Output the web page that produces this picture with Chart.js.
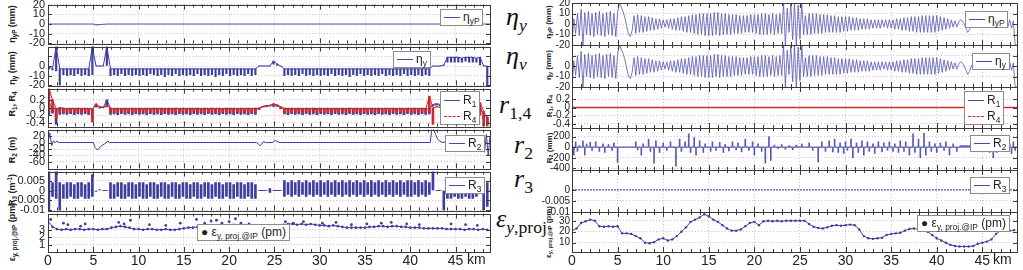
<!DOCTYPE html>
<html lang="en">
<head>
<meta charset="UTF-8">
<title>Dispersion and R-matrix along the ring</title>
<script src="https://cdn.jsdelivr.net/npm/chart.js"></script>
<style>
  body { margin: 0; width: 1023px; height: 270px; position: relative; overflow: hidden; background: #fff;
         font-family: "Liberation Sans", Arial, sans-serif; color: #222; }
  canvas { position: absolute; z-index: 3; }
  sub { font-size: 70%; vertical-align: -0.3em; line-height: 0; }
  sup { font-size: 70%; vertical-align: 0.4em; line-height: 0; }
  .yt { position: absolute; transform: translate(-50%, -50%) rotate(-90deg); white-space: nowrap;
        font-size: 9px; font-weight: bold; color: #222; z-index: 1; }
  .yt.r { font-size: 8px; }
  .m { position: absolute; font-family: "Liberation Serif", "DejaVu Serif", serif; font-size: 26px; line-height: 26px;
       background: #fff; z-index: 2; white-space: nowrap; color: #111; }
  .m i { font-style: italic; }
  .m sub { font-size: 68%; vertical-align: -0.35em; }
  .lg { position: absolute; background: #fff; border: 1px solid #8c8c8c; font-size: 12px; line-height: 15px;
        padding: 0 3px; white-space: nowrap; z-index: 4; color: #222; }
  .lg .s { display: inline-block; width: 16px; border-top: 1px solid #4a4aa8; vertical-align: middle; margin-right: 3px; }
  .lg .s.red { border-top: 1px dashed #d0282c; }
  .km { position: absolute; font-size: 14px; z-index: 4; color: #222; }
</style>
</head>
<body>
<!-- y titles, left column -->
<div class="yt" style="left:12px;top:24px">η<sub>yP</sub> (mm)</div>
<div class="yt" style="left:12px;top:68px">η<sub>y</sub> (mm)</div>
<div class="yt" style="left:12px;top:104px">R<sub>1</sub>, R<sub>4</sub></div>
<div class="yt" style="left:12px;top:150px">R<sub>2</sub> (m)</div>
<div class="yt" style="left:12px;top:190px">R<sub>3</sub> (m<sup>-1</sup>)</div>
<div class="yt" style="left:12px;top:232px">ε<sub>y, proj.@IP</sub> (pm)</div>
<!-- y titles, right column -->
<div class="yt r" style="left:548px;top:22px">η<sub>yP</sub> (mm)</div>
<div class="yt r" style="left:548px;top:65px">η<sub>y</sub> (mm)</div>
<div class="yt r" style="left:549px;top:106px">R<sub>1</sub>, R<sub>4</sub></div>
<div class="yt r" style="left:549px;top:148px">R<sub>2</sub> (mm)</div>
<div class="yt r" style="left:548px;top:232px">ε<sub>y, proj.@IP</sub> (pm)</div>

<!-- symbols between the two columns -->
<div class="m" style="left:506px;top:4px"><i>η</i><sub><i>y</i></sub></div>
<div class="m" style="left:506px;top:43px"><i>η</i><sub><i>v</i></sub></div>
<div class="m" style="left:499px;top:92px"><i>r</i><sub>1,4</sub></div>
<div class="m" style="left:514px;top:132px"><i>r</i><sub>2</sub></div>
<div class="m" style="left:514px;top:166px"><i>r</i><sub>3</sub></div>
<div class="m" style="left:496px;top:206px"><i>ε</i><sub><i>y</i>,proj</sub></div>

<!-- legends -->
<div class="lg" style="left:440px;top:9px"><span class="s"></span>η<sub>yP</sub></div>
<div class="lg" style="left:393px;top:51px"><span class="s"></span>η<sub>y</sub></div>
<div class="lg" style="left:440px;top:91px;line-height:16px"><span class="s"></span>R<sub>1</sub><br><span class="s red"></span>R<sub>4</sub></div>
<div class="lg" style="left:445px;top:135px"><span class="s"></span>R<sub>2</sub></div>
<div class="lg" style="left:445px;top:177px"><span class="s"></span>R<sub>3</sub></div>
<div class="lg" style="left:197px;top:224px">● ε<sub>y, proj.@IP</sub> (pm)</div>

<div class="lg" style="left:965px;top:11px"><span class="s"></span>η<sub>yP</sub></div>
<div class="lg" style="left:972px;top:53px"><span class="s"></span>η<sub>y</sub></div>
<div class="lg" style="left:964px;top:91px;line-height:16px"><span class="s"></span>R<sub>1</sub><br><span class="s red"></span>R<sub>4</sub></div>
<div class="lg" style="left:970px;top:135px"><span class="s"></span>R<sub>2</sub></div>
<div class="lg" style="left:970px;top:177px"><span class="s"></span>R<sub>3</sub></div>
<div class="lg" style="left:917px;top:215px">● ε<sub>y, proj.@IP</sub> (pm)</div>

<div class="km" style="left:467px;top:251px">km</div>
<div class="km" style="left:993px;top:251px">km</div>

<script>
// ---------------- data (km along the ring, sampled every 0.2 km unless given as x/y lists) ----------------
const STEP = 0.2;
const EPS_STEP = 0.5;
const X_TICKS = [0, 5, 10, 15, 20, 25, 30, 35, 40, 45];

// left column: eta_yP is flat
const etaYPLx = [0, 5.0, 5.3, 5.8, 6.6, 48.8];
const etaYPLy = [0, 0, -1, -0.5, 0, 0];

// left column: eta_y (mm)
const etaYL = [
  0,-3,-4,-3,-5, 20,-20,-3,-9,-3, -10,-3,-9,-3,-10, -3,-8,-3,-10,-3, -9,-3,-10,-3,-9,
  20,0,0,0,0, 0,0,0,20,-3, -10,-3,-9,-3,-10, -3,-8,-3,-10,-3, -9,-3,-10,-3,-9,
  -3,-10,-3,-9,-3, -10,-3,-8,-3,-9, -3,-10,-3,-9,-3, -11,-3,-9,-3,-10, -3,-8,-3,-10,-3,
  -9,-3,-10,-3,-9, -3,-10,-3,-8,-3, -10,-3,-9,-3,-10, -3,-9,-3,-11,-3, -9,-3,-10,-3,-8,
  -3,-10,-3,-9,-3, -10,-3,-9,-3,-10, -3,-8,-3,-10,-3, -9,0,0,0,0, 0,0,0,0,2,
  5,2,0,0,0, -3,-10,-3,-9,-3, -10,-3,-9,-3,-10, -3,-8,-3,-10,-3, -9,-3,-10,-3,-9,
  -3,-10,-3,-9,-3, -10,-3,-8,-3,-10, -3,-9,-3,-10,-3, -9,-3,-11,-3,-9, -3,-10,-3,-8,-3,
  -10,-3,-9,-3,-10, -3,-9,-3,-10,-3, -8,-3,-10,-3,-9, -3,-10,-3,-9,-3, -10,-3,-8,-3,-10,
  -3,-9,-3,-10,-3, -9,-3,-10,-3,-9, -3,-10,0,0,0, 0,0,0,0,1, 9,4,9,4,9,
  4,9,4,8,4, 9,5,9,4,9, 4,8,4,9,1, 0,0,0,-20,-20
];

// left column: R1 (blue) and R4 (red)
const r1L = [
  0.1,-0.2,0.0,-0.15,-0.05, -0.45,0.0,-0.18,-0.02,-0.17, -0.03,-0.18,-0.02,-0.16,-0.03, -0.19,-0.02,-0.17,-0.03,-0.18, -0.02,-0.16,-0.03,-0.19,-0.04,
  -0.3,0.05,0.0,-0.02,0.0, -0.01,0.0,0.02,0.2,-0.02, -0.18,-0.03,-0.17,-0.02,-0.19, -0.03,-0.16,-0.02,-0.18,-0.03, -0.17,-0.02,-0.19,-0.03,-0.16,
  -0.02,-0.18,-0.03,-0.17,-0.02, -0.19,-0.03,-0.16,-0.02,-0.18, -0.03,-0.17,-0.02,-0.19,-0.03, -0.16,-0.02,-0.18,-0.03,-0.17, -0.02,-0.19,-0.03,-0.16,-0.02,
  -0.18,-0.03,-0.17,-0.02,-0.19, -0.03,-0.16,-0.02,-0.18,-0.03, -0.17,-0.02,-0.19,-0.03,-0.16, -0.02,-0.18,-0.03,-0.17,-0.02, -0.19,-0.03,-0.16,-0.02,-0.18,
  -0.03,-0.17,-0.02,-0.19,-0.03, -0.16,-0.02,-0.18,-0.03,-0.17, -0.02,-0.19,-0.03,-0.16,-0.02, -0.18,-0.05,-0.02,0.0,0.03, 0.05,0.02,0.04,0.06,0.03,
  0.08,0.05,0.03,0.0,-0.03, -0.17,-0.02,-0.19,-0.03,-0.16, -0.02,-0.18,-0.03,-0.17,-0.02, -0.19,-0.03,-0.16,-0.02,-0.18, -0.03,-0.17,-0.02,-0.19,-0.03,
  -0.16,-0.02,-0.18,-0.03,-0.17, -0.02,-0.19,-0.03,-0.16,-0.02, -0.18,-0.03,-0.17,-0.02,-0.19, -0.03,-0.16,-0.02,-0.18,-0.03, -0.17,-0.02,-0.19,-0.03,-0.16,
  -0.02,-0.18,-0.03,-0.17,-0.02, -0.19,-0.03,-0.16,-0.02,-0.18, -0.03,-0.17,-0.02,-0.19,-0.03, -0.16,-0.02,-0.18,-0.03,-0.17, -0.02,-0.19,-0.03,-0.16,-0.02,
  -0.18,-0.03,-0.17,-0.02,-0.19, -0.03,-0.16,-0.02,-0.18,-0.03, -0.17,-0.05,0.05,0.08,0.1, 0.06,0.08,0.05,0.04,0.1, 0.0,0.1,0.0,0.09,0.01,
  0.1,0.0,0.09,0.01,0.1, 0.0,0.1,0.01,0.09,0.0, 0.1,0.01,0.09,0.0,-0.1, -0.3,-0.2,-0.4,-0.25,-0.45
];
const r4L = [
  0.5,-0.1,0.2,-0.12,-0.03, -0.3,-0.05,-0.14,-0.03,-0.13, -0.04,-0.14,-0.03,-0.12,-0.04, -0.15,-0.03,-0.13,-0.04,-0.14, -0.03,-0.12,-0.04,-0.15,-0.05,
  -0.38,0.1,0.05,0.02,0.0, 0.01,0.0,0.0,0.05,-0.03, -0.14,-0.04,-0.13,-0.03,-0.15, -0.04,-0.12,-0.03,-0.14,-0.04, -0.13,-0.03,-0.15,-0.04,-0.12,
  -0.03,-0.14,-0.04,-0.13,-0.03, -0.15,-0.04,-0.12,-0.03,-0.14, -0.04,-0.13,-0.03,-0.15,-0.04, -0.12,-0.03,-0.14,-0.04,-0.13, -0.03,-0.15,-0.04,-0.12,-0.03,
  -0.14,-0.04,-0.13,-0.03,-0.15, -0.04,-0.12,-0.03,-0.14,-0.04, -0.13,-0.03,-0.15,-0.04,-0.12, -0.03,-0.14,-0.04,-0.13,-0.03, -0.15,-0.04,-0.12,-0.03,-0.14,
  -0.04,-0.13,-0.03,-0.15,-0.04, -0.12,-0.03,-0.14,-0.04,-0.13, -0.03,-0.15,-0.04,-0.12,-0.03, -0.14,-0.06,-0.02,0.0,0.02, 0.04,0.03,0.05,0.04,0.06,
  0.1,0.07,0.04,0.02,-0.04, -0.13,-0.03,-0.15,-0.04,-0.12, -0.03,-0.14,-0.04,-0.13,-0.03, -0.15,-0.04,-0.12,-0.03,-0.14, -0.04,-0.13,-0.03,-0.15,-0.04,
  -0.12,-0.03,-0.14,-0.04,-0.13, -0.03,-0.15,-0.04,-0.12,-0.03, -0.14,-0.04,-0.13,-0.03,-0.15, -0.04,-0.12,-0.03,-0.14,-0.04, -0.13,-0.03,-0.15,-0.04,-0.12,
  -0.03,-0.14,-0.04,-0.13,-0.03, -0.15,-0.04,-0.12,-0.03,-0.14, -0.04,-0.13,-0.03,-0.15,-0.04, -0.12,-0.03,-0.14,-0.04,-0.13, -0.03,-0.15,-0.04,-0.12,-0.03,
  -0.14,-0.04,-0.13,-0.03,-0.15, -0.04,-0.12,-0.03,-0.14,-0.04, -0.13,0.3,-0.45,0.0,0.02, 0.0,0.01,0.0,0.01,0.05, 0.12,0.03,0.13,0.02,0.12,
  0.03,0.13,0.02,0.12,0.03, 0.13,0.02,0.12,0.03,0.13, 0.02,0.12,0.03,0.13,-0.2, -0.5,-0.1,-0.5,-0.3,-0.5
];

// left column: R2 (m)
const r2Lx = [0, 0.2, 0.4, 0.6, 0.8, 1.0, 1.2, 5.0, 5.2, 5.4, 5.6, 5.8, 6.0, 6.2, 6.4, 6.6, 6.8,
  23.0, 23.2, 23.4, 23.6, 23.8, 24.0, 24.8, 25.0, 25.2, 25.4, 25.6,
  42.2, 42.4, 42.6, 42.8, 43.0, 43.2, 43.4, 43.6, 43.8, 44.2, 44.6, 45.0, 45.4, 45.8, 46.2, 46.6, 47.0, 47.4, 47.8,
  48.0, 48.2, 48.4, 48.6, 48.8];
const r2Ly = [0, 30, -10, 5, 0, 5, 0, 0, -15, -22, -20, -12, -8, -5, -2, 5, 0,
  0, -3, -10, -5, 3, 0, 0, 6, 5, 2, 0,
  0, 45, 40, 25, 12, 5, 2, 0, 2, -3, 3, -3, 3, -3, 3, -3, 3, -3, 0,
  10, -30, 25, -40, 20];

// left column: R3 (1/m)
const r3L = [
  -0.01,0.01,-0.003,0.004,-0.004, 0.01,-0.01,0.004,-0.004,0.003, -0.004,0.004,-0.003,0.004,-0.004, 0.003,-0.004,0.004,-0.003,0.004, -0.004,0.003,-0.004,0.004,-0.003,
  0.008,0.0,-0.0005,0.0,0.0005, 0.0,0.0,0.0,0.0,0.004, -0.004,0.003,-0.004,0.004,-0.003, 0.004,-0.004,0.003,-0.004,0.004, -0.003,0.004,-0.004,0.003,-0.004,
  0.004,-0.003,0.004,-0.004,0.003, -0.004,0.004,-0.003,0.004,-0.004, 0.003,-0.004,0.004,-0.003,0.004, -0.004,0.003,-0.004,0.004,-0.003, 0.004,-0.004,0.003,-0.004,0.004,
  -0.003,0.004,-0.004,0.003,-0.004, 0.004,-0.003,0.004,-0.004,0.003, -0.004,0.004,-0.003,0.004,-0.004, 0.003,-0.004,0.004,-0.003,0.004, -0.004,0.003,-0.004,0.004,-0.003,
  0.004,-0.004,0.003,-0.004,0.004, -0.003,0.004,-0.004,0.003,-0.004, 0.004,-0.003,0.004,-0.004,0.003, -0.004,0.0,0.0,0.0,0.0, 0.0,0.0,0.001,-0.001,0.0,
  0,0,0,0,0, 0.005,-0.003,0.004,-0.002,0.005, -0.003,0.004,-0.002,0.005,-0.003, 0.004,-0.002,0.005,-0.003,0.004, -0.002,0.005,-0.003,0.004,-0.002,
  0.005,-0.003,0.004,-0.002,0.005, -0.003,0.004,-0.002,0.005,-0.003, 0.004,-0.002,0.005,-0.003,0.004, -0.002,0.005,-0.003,0.004,-0.002, 0.005,-0.003,0.004,-0.002,0.005,
  -0.003,0.004,-0.002,0.005,-0.003, 0.004,-0.002,0.005,-0.003,0.004, -0.002,0.005,-0.003,0.004,-0.002, 0.005,-0.003,0.004,-0.002,0.005, -0.003,0.004,-0.002,0.005,-0.003,
  0.005,-0.003,0.004,-0.002,0.005, -0.003,0.004,-0.002,0.005,-0.003, 0.004,-0.002,0.01,0.0,0.0, 0.0,0.0,0.0,-0.01,0.0, 0.004,-0.004,0.003,-0.004,0.004,
  -0.003,0.004,-0.004,0.003,-0.004, 0.004,-0.003,0.004,-0.004,0.003, -0.004,0.004,-0.003,0.004,0.0, 0.006,-0.01,0.004,-0.008,0.0
];

// left column: projected emittance (pm), every 0.5 km, plus scattered points
const epsL = [
  4.2,3.4,3.1,3.0,3.1, 3.0,3.1,3.1,3.0,3.1,
  3.1,3.0,3.1,3.1,3.3, 3.4,3.5,3.4,3.3,3.1,
  3.1,3.0,3.1,3.1,3.0, 3.0,3.1,3.0,3.0,3.1,
  3.2,3.3,3.3,3.4,3.5, 3.5,3.6,3.5,3.6,3.5,
  3.6,3.7,3.6,3.5,3.5, 3.6,3.5,3.5,3.4,3.5,
  3.5,3.6,3.7,3.8,3.8, 3.7,3.8,3.7,3.8,3.7,
  3.6,3.6,3.5,3.6,3.5, 3.4,3.3,3.3,3.3,3.3,
  3.3,3.4,3.4,3.5,3.5, 3.4,3.5,3.5,3.4,3.4,
  3.3,3.3,3.3,3.2,3.2, 3.2,3.2,3.2,3.1,3.1,
  3.1,3.1,3.0,3.1,3.1, 3.0,3.1,3.0
];
const epsLoutX = [0.3, 1.7, 2.2, 3.6, 4.1, 7.8, 8.4, 9.1, 11.2, 13.0, 14.6, 16.4, 17.3, 18.0, 18.6, 19.2, 20.0,
  20.7, 21.3, 22.2, 26.2, 27.1, 28.2, 30.3, 31.8, 33.5, 35.2, 36.8, 37.9, 39.6, 41.0, 44.5, 46.1, 47.4];
const epsLoutY = [4.4, 3.9, 3.7, 3.5, 3.8, 4.0, 3.8, 4.3, 3.7, 3.6, 3.9, 4.4, 3.9, 4.2, 4.3, 3.9, 4.1,
  4.5, 3.9, 3.8, 4.1, 3.9, 4.1, 3.9, 4.0, 3.7, 3.8, 3.9, 4.0, 3.8, 3.7, 3.8, 3.7, 3.6];

// right column: eta_yP and eta_y (mm), both panels show the same trace
const etaR = [
  -20,5,-9,10,-11, 14,-20,11,-10,12, -11,10,-12,11,-10, 12,-11,10,-12,11, -10,12,-11,10,-12,
  11,20,16,12,6, -2,-10,-12,-6,8, -9,9,-8,8,-8, 7,-7,7,-6,6, -6,5,-5,5,-4,
  4,-3,4,-4,5, -5,5,-6,6,-6, 7,-7,7,-8,8, -8,9,-9,9,-10, 10,-10,10,-11,10,
  -11,10,-11,11,-10, 11,-11,10,-10,10, -10,9,-10,9,-9, 9,-9,8,-9,8, -8,8,-8,9,-8,
  9,-9,9,-10,10, -10,10,-10,9,-9, 10,-10,9,-9,10, -9,20,-20,15,-8, 20,-15,20,-20,18,
  -14,20,-10,8,-10, 10,-10,10,-9,10, -9,9,-9,9,-8, 9,-8,8,-8,8, -8,7,-8,7,-7,
  7,-7,7,-6,6, -6,6,-6,5,-5, 5,-5,5,-5,4, -4,4,-4,4,-4, 4,-3,4,-4,4,
  -4,4,-5,5,-5, 5,-6,6,-6,6, -7,7,-7,7,-8, 7,-8,8,-8,8, -8,8,-8,8,-8,
  8,-7,7,-6,6, -5,5,-4,4,-3, 3,-3,2,4,3, 0,-4,-8,-5,0, 3,-3,3,-3,3,
  -3,3,-3,3,-3, 3,-3,3,-3,3, -3,3,-3,3,-3, 4,-4,3,-20,-20
];

// right column: R1 / R4 and R3 stay at zero
const flatRx = [0, 48.8];
const flatRy = [0, 0];

// right column: R2 (mm)
const r2R = [
  0,-150,100,-80,30, 0,120,-150,60,0, 90,-60,0,100,0, -80,0,60,-100,0, 50,0,-60,80,0,
  -290,0,0,0,0, 0,0,0,0,0, 100,-50,0,-150,60, 0,0,150,-80,0, -300,120,0,-100,0,
  80,0,-60,0,100, 0,0,-360,0,150, -80,0,100,0,250, -100,0,180,-150,0, 120,0,-100,60,0,
  0,-80,100,0,-60, 0,90,0,-100,50, 0,-70,0,100,0, -50,80,0,-90,0, 150,0,-60,0,100,
  -150,0,60,0,-80, 0,-300,0,200,-250, 0,40,0,-30,0, 50,0,-40,0,30, 0,-50,0,40,0,
  0,60,0,0,0, 80,0,-60,0,0, -280,0,100,0,-80, 0,120,0,-90,150, 0,-100,80,0,-120,
  100,-60,0,150,-200, 0,80,-100,0,120, -150,0,100,-80,0, 60,-120,0,100,0, -90,80,0,-60,100,
  0,-80,60,0,-100, 120,0,-80,100,0, -150,0,250,-100,0, 150,-200,0,260,-150, 0,100,-80,0,60,
  -100,0,80,0,-60, 100,0,-150,0,60, 0,-80,0,30,30, 30,30,30,30,30, 0,60,-80,50,-60,
  80,-50,0,60,-100, 0,-200,50,-100,80, -60,0,50,-80,0, 60,-120,100,-60,0
];

// right column: projected emittance (pm), every 0.5 km
const epsR = [
  21,23,28,29.5,31, 30,25,24.5,25,24.5,
  25,18.5,18.5,18,16, 14,10,9.5,10.5,13,
  14,12,13,16,20, 24,29,31,33,36,
  34,31,29,26,23, 21,21,22,25,28,
  29,26,29.5,30,29.5, 30,29.5,30,30,30,
  30,30,27,24.5,23.5, 23,24,25.5,26,25.5,
  26,26.5,26,22,16, 14,13.5,14,14.5,17,
  18,18.5,19,21,22.5, 23,22,21,20,17,
  14,12,10,8,7, 6.5,6.5,6.5,7,9,
  10,11,13,18,21, 21.5,21,21.5
];

// y ticks per panel (labels empty where the figure shows none)
const etaTicks1 = [20, 10, 0, -10, -20];
const etaTicks2 = [10, 0, -10, -20];
const etaLabels2 = ['', '0', '-10', '-20'];
const rTicks14 = [0.2, 0, -0.2, -0.4];
const r2LTicks = [20, 0, -20, -40, -60];
const r3LTicks = [0.005, 0, -0.005, -0.01];
const epsLTicks = [3, 2, 1];
const r2RTicks = [200, 0, -200, -400];
const r3RTicks = [0, -0.005, -0.01];
const epsRTicks = [30, 20, 10];

// ---------------- drawing ----------------
const BLUE = '#3e3ea0';
const BLUE_LIGHT = '#5858b2';
const RED = '#d0282c';
const GRID = 'rgba(185,150,185,0.6)';
const PAD = 8;
const ROW_TOP = [3, 45, 87, 128, 170, 212];
const ROW_BOTTOM = [45, 87, 128, 170, 212, 252];

function onGrid(ys, step) {
  return ys.map((y, i) => ({ x: +(i * step).toFixed(1), y: y }));
}
function pairs(xs, ys) {
  return xs.map((x, i) => ({ x: x, y: ys[i] }));
}
function line(data, color, width, order) {
  return { data: data, borderColor: color, borderWidth: width, pointRadius: 0, order: order || 0 };
}
// fast comb-like traces: each pair of neighbouring samples becomes a thin vertical stroke;
// the upper sample of each pair ('top') or only the flat stretches ('flat') are joined by a line
function comb(ys, color, edge, thick, order) {
  const bars = [], edgeLine = [];
  for (let k = 0; k + 1 < ys.length; k += 2) {
    const a = ys[k], b = ys[k + 1];
    const x = +((k + 0.5) * STEP).toFixed(2);
    bars.push({ x: x, y: [Math.min(a, b), Math.max(a, b)] });
    edgeLine.push({ x: x, y: edge === 'top' ? Math.max(a, b) : (a === b ? a : null) });
  }
  return [
    { type: 'bar', data: bars, backgroundColor: color, borderWidth: 0, barThickness: thick, grouped: false, order: order || 0 },
    { type: 'line', data: edgeLine, borderColor: color, borderWidth: 1, pointRadius: 0, spanGaps: false, order: order || 0 }
  ];
}
// spikes standing on a zero line
function spikes(ys, color) {
  return [
    { type: 'bar', data: ys.map((y, i) => ({ x: +(i * STEP).toFixed(1), y: [Math.min(0, y), Math.max(0, y)] })),
      backgroundColor: color, borderWidth: 0, barThickness: 1, grouped: false },
    line(pairs(flatRx, flatRy), color, 1)
  ];
}

// box around each panel plus small inward ticks
const framePlugin = {
  id: 'frame',
  afterDatasetsDraw(chart) {
    const ctx = chart.ctx;
    const a = chart.chartArea;
    const xs = chart.scales.x, ys = chart.scales.y;
    ctx.save();
    ctx.strokeStyle = '#3a3a3a';
    ctx.lineWidth = 1;
    ctx.strokeRect(Math.round(a.left) + 0.5, Math.round(a.top) + 0.5, Math.round(a.right - a.left), Math.round(a.bottom - a.top));
    ctx.beginPath();
    for (let km = 1; km < 49; km++) {
      const x = Math.round(xs.getPixelForValue(km)) + 0.5;
      const len = km % 5 === 0 ? 5 : 3;
      ctx.moveTo(x, a.top); ctx.lineTo(x, a.top + len);
      ctx.moveTo(x, a.bottom); ctx.lineTo(x, a.bottom - len);
    }
    ys.ticks.forEach(t => {
      const y = Math.round(ys.getPixelForValue(t.value)) + 0.5;
      ctx.moveTo(a.left, y); ctx.lineTo(a.left + 4, y);
      ctx.moveTo(a.right, y); ctx.lineTo(a.right - 4, y);
    });
    ctx.stroke();
    ctx.restore();
  }
};

function makePanel(col, row, yMin, yMax, yTicks, yLabels, datasets) {
  const c = col === 'L' ? { left: 0, width: 496, yw: 48, font: 11 } : { left: 520, width: 503, yw: 52, font: 10 };
  const isBottom = row === 5;
  const top = ROW_TOP[row] - PAD;
  const h = ROW_BOTTOM[row] - ROW_TOP[row] + PAD + (isBottom ? 18 : PAD);
  const cv = document.createElement('canvas');
  cv.width = c.width;
  cv.height = h;
  cv.style.left = c.left + 'px';
  cv.style.top = top + 'px';
  document.body.appendChild(cv);

  new Chart(cv, {
    type: 'line',
    data: { datasets: datasets },
    options: {
      responsive: false,
      animation: false,
      layout: { padding: { top: PAD, bottom: isBottom ? 0 : PAD, left: 0, right: 6 } },
      plugins: { legend: { display: false }, tooltip: { enabled: false } },
      elements: { line: { tension: 0 } },
      scales: {
        x: {
          type: 'linear', min: 0, max: 48.8, offset: false,
          afterBuildTicks: s => { s.ticks = X_TICKS.map(v => ({ value: v })); },
          afterFit: s => { s.height = isBottom ? 18 : 0; },
          ticks: { display: isBottom, autoSkip: false, maxRotation: 0, padding: 1, color: '#222',
                   font: { size: 14, family: '"Liberation Sans", Arial, sans-serif' } },
          grid: { color: GRID, drawTicks: false, offset: false },
          border: { display: false, dash: [1, 2] }
        },
        y: {
          min: yMin, max: yMax,
          afterBuildTicks: s => { s.ticks = yTicks.map(v => ({ value: v })); },
          afterFit: s => { s.width = c.yw; },
          ticks: { autoSkip: false, padding: col === 'L' ? 3 : 2, color: '#222',
                   font: { size: c.font, family: '"Liberation Sans", Arial, sans-serif' },
                   callback: (v, i) => yLabels ? yLabels[i] : String(yTicks[i]) },
          grid: { color: GRID, drawTicks: false },
          border: { display: false, dash: [1, 2] }
        }
      }
    },
    plugins: [framePlugin]
  });
}

// left column
makePanel('L', 0, -20, 20, etaTicks1, null, [line(pairs(etaYPLx, etaYPLy), BLUE_LIGHT, 1.2)]);
makePanel('L', 1, -20, 20, etaTicks2, etaLabels2, comb(etaYL, BLUE, 'top', 1.5));
makePanel('L', 2, -0.5, 0.5, rTicks14, null, comb(r4L, RED, 'top', 2, 0).concat(comb(r1L, BLUE, 'top', 2, 1)));
makePanel('L', 3, -80, 40, r2LTicks, null, [line(pairs(r2Lx, r2Ly), BLUE, 1)]);
makePanel('L', 4, -0.01, 0.0095, r3LTicks, null, comb(r3L, BLUE, 'flat', 2));
makePanel('L', 5, 0, 5.2, epsLTicks, null, [
  { data: onGrid(epsL, EPS_STEP), borderColor: BLUE, borderWidth: 1, pointRadius: 1.3,
    pointBackgroundColor: BLUE, pointBorderWidth: 0 },
  { data: pairs(epsLoutX, epsLoutY), showLine: false, pointRadius: 1.4,
    pointBackgroundColor: BLUE, pointBorderWidth: 0 }
]);

// right column
makePanel('R', 0, -20, 20, etaTicks1, null, [line(onGrid(etaR, STEP), BLUE_LIGHT, 0.8)]);
makePanel('R', 1, -20, 20, etaTicks2, etaLabels2, [line(onGrid(etaR, STEP), BLUE_LIGHT, 0.8)]);
makePanel('R', 2, -0.5, 0.5, rTicks14, null, [
  line(pairs(flatRx, flatRy), RED, 1.6, 0),
  line(pairs(flatRx, flatRy), BLUE_LIGHT, 0.8, 1)
]);
makePanel('R', 3, -430, 360, r2RTicks, null, spikes(r2R, BLUE_LIGHT));
makePanel('R', 4, -0.01, 0.009, r3RTicks, null, [
  { data: pairs(flatRx, flatRy), borderColor: BLUE_LIGHT, borderWidth: 1.2, borderDash: [2, 1], pointRadius: 0 }
]);
makePanel('R', 5, 1.5, 38, epsRTicks, null, [
  { data: onGrid(epsR, EPS_STEP), borderColor: BLUE, borderWidth: 1, pointRadius: 1.2,
    pointBackgroundColor: BLUE, pointBorderWidth: 0 }
]);
</script>
</body>
</html>
